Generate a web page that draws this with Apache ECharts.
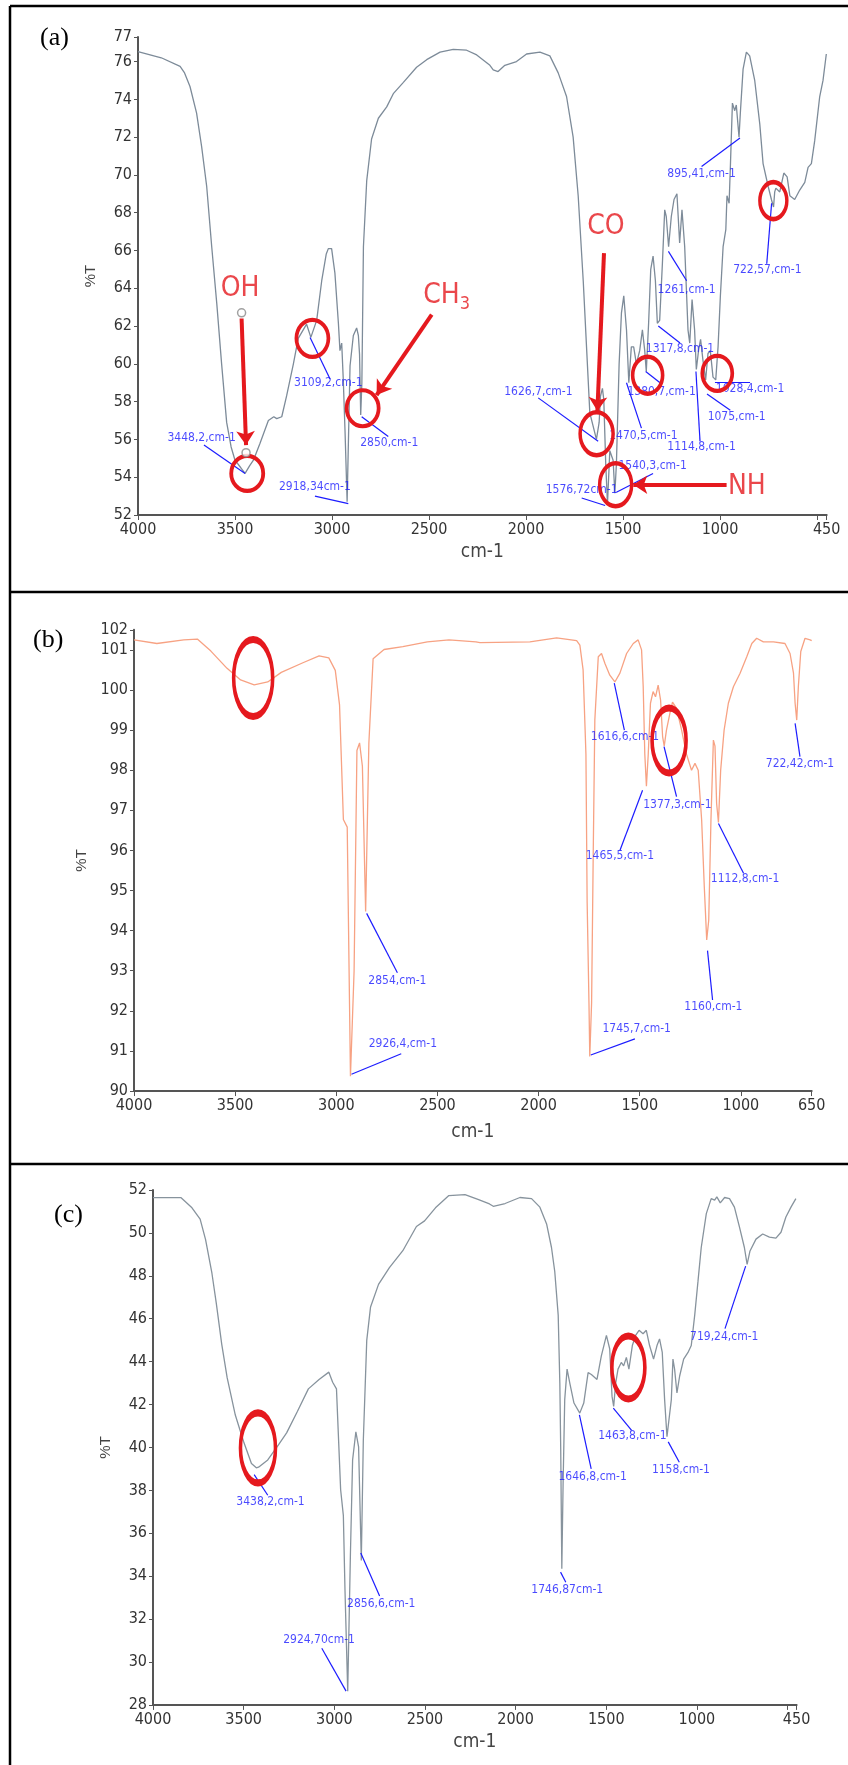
<!DOCTYPE html>
<html><head><meta charset="utf-8">
<script src="https://cdn.jsdelivr.net/npm/echarts@6/dist/echarts.min.js"></script>
<style>html,body{margin:0;padding:0;background:#fff}#c{width:848px;height:1765px}</style>
</head><body><div id="c"></div>
<script>
// ---------- Panel (a) spectrum ----------
const waveA = [4000,3880,3783,3760,3732,3698,3672,3646,3620,3594,3569,3543,3520,3500,3470,3448,3425,3405,3371,3328,3300,3285,3259,3234,3199,3174,3131,3109,3079,3053,3030,3019,3002,2985,2967,2959,2950,2942,2933,2922,2916,2907,2890,2873,2864,2858,2852,2846,2838,2821,2796,2761,2718,2684,2632,2564,2538,2512,2443,2375,2306,2254,2186,2169,2144,2109,2049,1997,1928,1877,1834,1791,1757,1731,1705,1688,1671,1654,1637,1623,1616,1606,1599,1589,1580,1568,1560,1551,1542,1534,1520,1508,1496,1482,1470,1457,1445,1431,1414,1400,1388,1380,1368,1357,1345,1333,1323,1311,1297,1285,1277,1265,1251,1237,1222,1208,1196,1182,1165,1156,1144,1131,1122,1110,1100,1088,1074,1062,1050,1036,1022,1010,998,984,970,964,953,946,936,924,916,902,895,881,864,847,821,795,778,752,735,730,724,718,712,692,671,654,640,615,589,563,546,529,512,486,469,452];
const transA = [76.53,76.2,75.75,75.4,74.68,73.27,71.5,69.4,66.2,63.2,60.0,56.9,55.6,54.9,54.5,54.2,54.6,54.9,55.8,57.0,57.2,57.1,57.2,58.3,60.0,61.35,62.1,61.4,62.3,64.4,65.8,66.1,66.1,64.8,62.15,60.7,61.1,59.2,56.5,52.7,52.7,59.9,61.5,61.9,61.5,60.5,57.3,59.0,66.2,69.7,71.9,73.0,73.6,74.3,74.9,75.7,75.9,76.1,76.5,76.65,76.6,76.35,75.8,75.56,75.47,75.8,76.0,76.4,76.5,76.3,75.4,74.15,72.0,68.9,64.4,60.9,57.4,56.7,56.0,56.9,58.3,58.7,58.1,54.7,52.6,55.4,55.4,54.9,53.15,54.7,60.0,62.7,63.6,61.8,59.0,60.9,60.9,60.0,60.7,61.8,60.7,59.6,62.15,65.0,65.7,64.4,62.15,62.3,65.3,68.15,67.8,66.2,67.8,68.7,69.0,66.4,68.15,66.2,61.8,61.1,63.4,61.8,59.7,60.75,61.3,60.2,59.15,60.55,60.7,59.3,59.15,60.9,63.6,66.2,67.1,68.9,68.5,70.6,73.8,73.4,73.7,72.0,73.3,75.6,76.5,76.3,75.0,72.7,70.6,69.4,68.7,68.6,68.3,69.1,69.3,69.1,70.1,69.9,68.9,68.7,69.2,69.6,70.4,70.6,71.8,74.15,75.0,76.4];

// ---------- Panel (b) spectrum ----------
const waveB = [4000,3887,3754,3687,3620,3540,3473,3406,3339,3272,3165,3085,3037,3005,2984,2965,2946,2930,2912,2898,2885,2871,2855,2839,2818,2764,2671,2550,2443,2310,2290,2043,1911,1812,1796,1780,1766,1760,1751,1747,1738,1730,1722,1705,1689,1672,1648,1623,1598,1565,1532,1508,1491,1483,1475,1467,1458,1447,1434,1422,1409,1397,1387,1379,1368,1351,1338,1318,1293,1269,1244,1227,1211,1194,1181,1169,1159,1148,1136,1128,1120,1111,1100,1083,1062,1037,1004,971,946,922,889,839,782,757,740,732,724,716,704,683,658,650];
const transB = [101.25,101.16,101.25,101.27,100.97,100.54,100.25,100.13,100.2,100.44,100.68,100.85,100.8,100.49,99.63,96.77,96.58,90.37,93.0,98.49,98.68,98.1,94.48,98.68,100.78,101.01,101.08,101.2,101.25,101.2,101.18,101.2,101.3,101.23,101.12,100.5,98.4,94.7,92.2,90.86,92.2,95.9,99.25,100.83,100.91,100.66,100.37,100.2,100.42,100.91,101.16,101.25,101.0,100.1,98.4,97.6,98.4,99.67,99.96,99.83,100.12,99.75,98.84,98.6,99.0,99.42,99.7,99.54,99.0,98.4,98.0,98.17,98.0,96.76,95.1,93.77,94.26,96.76,98.75,98.6,97.17,96.7,98.0,99.0,99.67,100.08,100.42,100.83,101.16,101.29,101.2,101.2,101.16,100.91,100.42,99.67,99.25,100.08,100.96,101.29,101.25,101.23];

// ---------- Panel (c) spectrum ----------
const waveC = [4000,3845,3785,3740,3710,3675,3651,3621,3591,3546,3501,3457,3430,3418,3367,3308,3263,3203,3143,3084,3030,3009,2988,2965,2950,2941,2926,2911,2899,2881,2866,2851,2840,2821,2800,2756,2696,2622,2547,2502,2442,2368,2279,2204,2144,2123,2058,1976,1912,1866,1829,1802,1784,1765,1756,1751,1745,1738,1729,1716,1701,1678,1646,1624,1600,1582,1551,1527,1499,1481,1468,1459,1448,1435,1417,1404,1389,1375,1356,1338,1319,1297,1279,1261,1239,1220,1206,1191,1178,1165,1154,1141,1132,1123,1110,1095,1073,1049,1031,1012,994,976,948,921,902,890,871,847,820,793,765,738,723,707,674,637,600,564,536,509,481,454];
const transC = [51.64,51.64,51.17,50.64,49.69,48.12,46.73,44.82,43.25,41.51,40.29,39.25,39.05,39.08,39.42,40.12,40.68,41.69,42.73,43.17,43.51,43.04,42.73,38.03,36.82,33.34,28.64,35.06,39.42,40.73,40.03,34.73,40.3,44.99,46.55,47.6,48.38,49.17,50.3,50.56,51.17,51.74,51.78,51.55,51.35,51.24,51.37,51.65,51.6,51.2,50.42,49.32,48.2,46.17,43.0,39.86,34.35,38.28,42.23,43.65,43.0,42.07,41.6,42.07,43.49,43.4,43.17,44.27,45.22,44.6,42.38,41.91,43.0,43.65,43.96,43.8,44.2,43.65,44.75,45.22,45.46,45.3,45.46,44.75,44.12,44.75,45.06,44.43,42.23,40.5,40.42,42.23,44.12,43.65,42.54,43.33,44.12,44.43,44.75,46.17,47.74,49.32,50.9,51.6,51.53,51.68,51.4,51.65,51.6,51.2,50.27,49.32,48.53,49.16,49.71,49.95,49.8,49.76,50.03,50.74,51.2,51.6];

// ---------- Tick labels ----------
const yTicksA = [52,54,56,58,60,62,64,66,68,70,72,74,76,77.3];
const yTicksB = [90,91,92,93,94,95,96,97,98,99,100,101,101.5];
const xLabelsA = [4000,3500,3000,2500,2000,1500,1000,450];
const xTicksA = [4000,3500,3000,2500,2000,1500,1000,500,450];
const xLabelsB = [4000,3500,3000,2500,2000,1500,1000,650];
const xLabelsC = [4000,3500,3000,2500,2000,1500,1000,450];
const xTicksC = [4000,3500,3000,2500,2000,1500,1000,500,450];

// ---------- Peak annotations: text, label anchor [cm-1, %T], leader from, leader to ----------
const peakTextA = ['3448,2,cm-1','3109,2,cm-1','2918,34cm-1','2850,cm-1','1626,7,cm-1','1540,3,cm-1','1576,72cm-1','1470,5,cm-1','1380,7,cm-1','1317,8,cm-1','1261,cm-1','1114,8,cm-1','1028,4,cm-1','1075,cm-1','895,41,cm-1','722,57,cm-1'];
const peakLabelA = [[3672,56.1],[3019,59.0],[3088,53.5],[2705,55.8],[1936,58.5],[1347,54.6],[1713,53.33],[1395,56.2],[1301,58.5],[1206,60.8],[1172,63.9],[1095,55.6],[845,58.7],[914,57.2],[1095,70.05],[756,65.0]];
const leaderFromA = [[3660,55.7],[3113,61.4],[3088,53.0],[2847,57.2],[1937,58.2],[1534,53.2],[1713,52.9],[1482,59.0],[1383,59.6],[1318,62.0],[1266,65.95],[1124,59.6],[1026,59.05],[1067,58.4],[1095,70.45],[734,68.5]];
const leaderToA = [[3448,54.2],[3010,59.2],[2916,52.6],[2710,56.15],[1628,55.9],[1345,54.2],[1592,52.5],[1405,56.6],[1309,59.0],[1206,61.1],[1172,64.4],[1103,55.9],[845,59.05],[947,57.55],[897,71.95],[759,65.3]];

const peakTextB = ['2854,cm-1','2926,4,cm-1','1745,7,cm-1','1616,6,cm-1','1465,5,cm-1','1377,3,cm-1','1160,cm-1','1112,8,cm-1','722,42,cm-1'];
const peakLabelB = [[2698,92.74],[2671,91.18],[1515,91.54],[1573,98.84],[1598,95.86],[1314,97.13],[1136,92.1],[979.5,95.3],[708,98.17]];
const leaderFromB = [[2850,94.43],[2925,90.42],[1742,90.9],[1626,100.17],[1486,97.5],[1380,98.59],[1165,93.5],[1111,96.67],[732,99.17]];
const leaderToB = [[2698,92.95],[2679,90.93],[1524,91.3],[1576,99.0],[1598,96.0],[1318,97.34],[1140,92.27],[987,95.43],[708,98.34]];

const peakTextC = ['3438,2,cm-1','2924,70cm-1','2856,6,cm-1','1746,87cm-1','1646,8,cm-1','1463,8,cm-1','1158,cm-1','719,24,cm-1'];
const peakLabelC = [[3352,37.48],[3084,31.04],[2741,32.69],[1715,33.37],[1575,38.65],[1356,40.54],[1088,38.95],[849,45.14]];
const leaderFromC = [[3442,38.73],[3069,30.64],[2854,35.08],[1752,34.19],[1648,41.52],[1461,41.83],[1158,40.26],[731,48.45]];
const leaderToC = [[3367,37.77],[2935,28.64],[2750,33.08],[1723,33.72],[1583,39.0],[1360,40.8],[1097,39.31],[845,45.54]];

// ---------- Red highlight circles (centres) ----------
const circlesA = [[3437,54.2],[3101,61.35],[2842,57.65],[1636,56.3],[1538,53.6],[1373,59.4],[1014,59.5],[725,68.64]];
const circlesB = [[3411,100.3],[1355,98.74]];
const circlesC = [[3421,39.98],[1378,43.73]];

// ---------- Group labels and arrows (panel a) ----------
const groupText = ['OH','CH3','CO','NH'];
const groupPos = [[3474,64.0],[2409,63.6],[1588,67.25],[862,53.5]];
const arrowFrom = [[3466,62.4],[2486,62.6],[1598,65.86],[966,53.6]];
const arrowTo = [[3443,55.7],[2770,58.35],[1632,57.5],[1447,53.6]];
const markerDots = [[3466,62.7],[3443,55.3]];

// ---------- styles ----------
const circleSizeA = [[32,35],[32,37],[32,36],[33,43],[32,43],[30,37],[30,35],[27,37]];
const circleSizeB = [[39,77],[34,65]];
const circleSizeC = [[35,70],[33,63]];

const NARROW = "'Liberation Sans Narrow','DejaVu Sans Condensed','Liberation Sans',sans-serif";
const RED = '#e5191e', BLUE = '#1c1cff';

const zip = (w, t) => w.map((x, i) => [x, t[i]]);

function xAxis(idx, min, labels, ticks) {
  return {
    gridIndex: idx, type: 'value', inverse: true, min: min, max: 4000,
    name: 'cm-1', nameLocation: 'middle', nameGap: idx === 1 ? 32 : 28,
    nameTextStyle: {fontFamily: NARROW, fontSize: 19, color: '#444'},
    axisLine: {show: true, onZero: false, lineStyle: {color: '#555', width: 2}},
    axisTick: {show: true, length: 5, customValues: ticks, lineStyle: {color: '#555'}},
    axisLabel: {customValues: labels, fontFamily: NARROW, fontSize: 16, color: '#333', margin: 7,
      formatter: v => String(v)},
    splitLine: {show: false}
  };
}
function yAxis(idx, min, max, ticks, gap) {
  const ax = {
    gridIndex: idx, type: 'value', min: min, max: max,
    name: '%T', nameLocation: 'middle', nameGap: gap,
    nameTextStyle: {fontFamily: "'Liberation Sans',sans-serif", fontSize: 15, color: '#444'},
    axisLine: {show: true, lineStyle: {color: '#555', width: 2}},
    axisTick: {show: true, length: 4, lineStyle: {color: '#555'}},
    axisLabel: {fontFamily: NARROW, fontSize: 16, color: '#333', margin: 6,
      formatter: v => String(Math.round(v))},
    splitLine: {show: false}
  };
  if (ticks) { ax.axisTick.customValues = ticks; ax.axisLabel.customValues = ticks; }
  else { ax.interval = 2; }
  return ax;
}

function curve(idx, w, t, color) {
  return {type: 'line', xAxisIndex: idx, yAxisIndex: idx, data: zip(w, t), showSymbol: false,
    symbol: 'none', lineStyle: {color: color, width: 1.3}, z: 2, silent: true, animation: false};
}
function leaders(idx, from, to) {
  return {type: 'lines', coordinateSystem: 'cartesian2d', xAxisIndex: idx, yAxisIndex: idx,
    data: from.map((f, i) => ({coords: [f, to[i]]})), lineStyle: {color: BLUE, width: 1.2, opacity: 1},
    symbol: 'none', z: 3, silent: true, animation: false};
}
function peakLabels(idx, pos, text) {
  return {type: 'scatter', xAxisIndex: idx, yAxisIndex: idx, symbolSize: 1,
    itemStyle: {color: 'transparent'},
    data: pos.map((p, i) => ({value: [p[0], p[1]], name: text[i]})),
    label: {show: true, position: 'inside', formatter: p => p.name, color: BLUE,
      fontFamily: NARROW, fontSize: 12}, z: 4, silent: true, animation: false};
}
function rings(idx, pos, sizes, bw) {
  return {type: 'scatter', xAxisIndex: idx, yAxisIndex: idx,
    data: pos.map((p, i) => ({value: p, symbolSize: sizes[i]})),
    symbol: 'circle', itemStyle: {color: 'rgba(0,0,0,0)', borderColor: RED, borderWidth: bw, opacity: 1},
    z: 6, silent: true, animation: false};
}

const series = [
  curve(0, waveA, transA, '#7d8b99'),
  curve(1, waveB, transB, '#f7a283'),
  curve(2, waveC, transC, '#87939d'),
  leaders(0, leaderFromA, leaderToA),
  leaders(1, leaderFromB, leaderToB),
  leaders(2, leaderFromC, leaderToC),
  peakLabels(0, peakLabelA, peakTextA),
  peakLabels(1, peakLabelB, peakTextB),
  peakLabels(2, peakLabelC, peakTextC),
  rings(0, circlesA, circleSizeA, 4),
  rings(1, circlesB, circleSizeB, 5),
  rings(2, circlesC, circleSizeC, 5),
  {type: 'lines', coordinateSystem: 'cartesian2d', xAxisIndex: 0, yAxisIndex: 0,
   data: arrowFrom.map((f, i) => ({coords: [f, arrowTo[i]]})),
   lineStyle: {color: RED, width: 4, opacity: 1}, symbol: ['none', 'arrow'], symbolSize: 14,
   z: 7, silent: true, animation: false},
  {type: 'scatter', xAxisIndex: 0, yAxisIndex: 0, data: markerDots, symbol: 'circle', symbolSize: 8,
   itemStyle: {color: '#fff', borderColor: '#8a8a8a', borderWidth: 1.5}, z: 8, silent: true, animation: false},
  {type: 'scatter', xAxisIndex: 0, yAxisIndex: 0, symbolSize: 1, itemStyle: {color: 'transparent'},
   data: groupPos.map((p, i) => ({value: p, name: groupText[i]})),
   label: {show: true, position: 'inside', color: RED, fontFamily: NARROW, fontSize: 28,
     formatter: p => p.name === 'CH3' ? '{a|CH}{b|3}' : p.name,
     rich: {a: {color: RED, fontFamily: NARROW, fontSize: 28, lineHeight: 34, verticalAlign: 'middle'},
            b: {color: RED, fontFamily: NARROW, fontSize: 18, lineHeight: 20, verticalAlign: 'bottom'}}},
   z: 8, silent: true, animation: false}
];

const chart = echarts.init(document.getElementById('c'), null, {renderer: 'canvas'});
chart.setOption({
  animation: false,
  backgroundColor: '#fff',
  grid: [
    {left: 138, top: 37, width: 688.7, height: 478},
    {left: 134, top: 629.85, width: 677.7, height: 461.2},
    {left: 153, top: 1190, width: 643.6, height: 514.9}
  ],
  xAxis: [xAxis(0, 450, xLabelsA, xTicksA), xAxis(1, 650, xLabelsB, xLabelsB), xAxis(2, 450, xLabelsC, xTicksC)],
  yAxis: [yAxis(0, 52, 77.3, yTicksA, 40), yAxis(1, 90, 101.5, yTicksB, 40), yAxis(2, 28, 52, null, 40)],
  graphic: [
    {type: 'line', shape: {x1: 10, y1: 6, x2: 848, y2: 6}, style: {stroke: '#000', lineWidth: 2.5}},
    {type: 'line', shape: {x1: 10, y1: 6, x2: 10, y2: 1765}, style: {stroke: '#000', lineWidth: 2.5}},
    {type: 'line', shape: {x1: 10, y1: 592, x2: 848, y2: 592}, style: {stroke: '#000', lineWidth: 2.5}},
    {type: 'line', shape: {x1: 10, y1: 1164, x2: 848, y2: 1164}, style: {stroke: '#000', lineWidth: 2.5}},
    {type: 'text', left: 40, top: 25, style: {text: '(a)', font: "26px 'Liberation Serif', serif", fill: '#000'}},
    {type: 'text', left: 33, top: 627, style: {text: '(b)', font: "26px 'Liberation Serif', serif", fill: '#000'}},
    {type: 'text', left: 54, top: 1202, style: {text: '(c)', font: "26px 'Liberation Serif', serif", fill: '#000'}}
  ],
  series: series
});
</script></body></html>
